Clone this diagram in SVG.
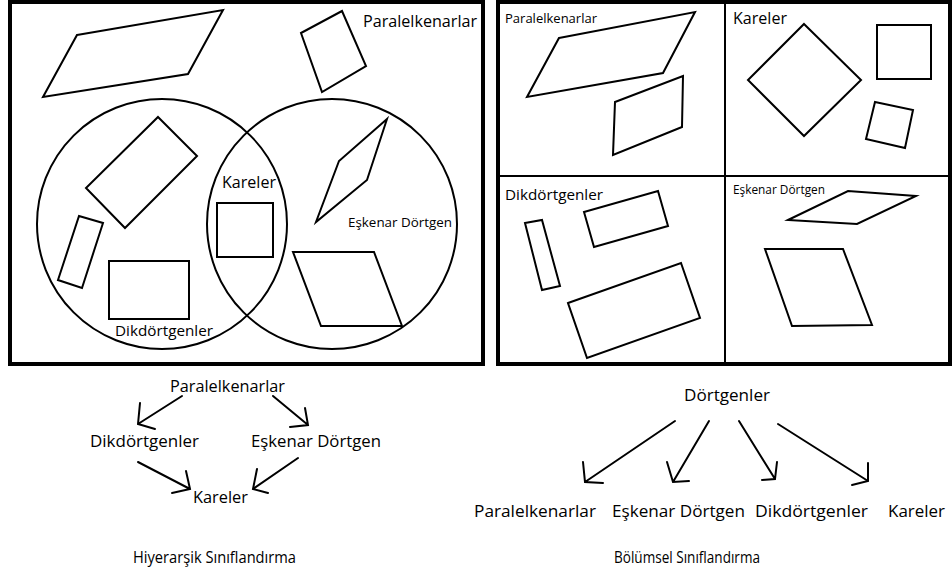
<svg xmlns="http://www.w3.org/2000/svg" width="952" height="581" viewBox="0 0 952 581">
<style>
text{font-family:"Open Sans","Liberation Sans",sans-serif;fill:#000}
.frame{fill:none;stroke:#000;stroke-width:4}
.shape{fill:none;stroke:#000;stroke-width:2;stroke-linejoin:miter}
.div{stroke:#000;stroke-width:2}
.arr{fill:none;stroke:#000;stroke-width:2;stroke-linecap:round;stroke-linejoin:miter}
</style>
<rect width="952" height="581" fill="#fff"/>

<g id="hierarchical-venn">
  <rect class="frame" x="10" y="2" width="473" height="362"/>
  <polygon class="shape" points="77,35 223,10 188,74 43,97"/>
  <polygon class="shape" points="301,33 342,11 366,66 322,92"/>
  <text x="363" y="27" font-size="16" textLength="114" lengthAdjust="spacingAndGlyphs">Paralelkenarlar</text>
  <circle class="shape" cx="162" cy="224" r="125"/>
  <circle class="shape" cx="332" cy="224" r="125"/>
  <polygon class="shape" points="158,117 197,156 125,228 86,188"/>
  <polygon class="shape" points="79,216 103,223 82,288 58,280"/>
  <rect class="shape" x="109" y="261" width="80" height="58"/>
  <text x="115" y="336" font-size="15" textLength="98" lengthAdjust="spacingAndGlyphs">Dikdörtgenler</text>
  <rect class="shape" x="217" y="203" width="56" height="54"/>
  <text x="222" y="188" font-size="16" textLength="54" lengthAdjust="spacingAndGlyphs">Kareler</text>
  <polygon class="shape" points="387,119 339,161 316,222 367,180"/>
  <text x="348" y="227" font-size="13" textLength="104" lengthAdjust="spacingAndGlyphs">Eşkenar Dörtgen</text>
  <polygon class="shape" points="293,252 374,252 402,326 321,326"/>
</g>

<g id="partitional-grid">
  <rect class="frame" x="498" y="2" width="452" height="362"/>
  <line class="div" x1="725" y1="2" x2="725" y2="364"/>
  <line class="div" x1="498" y1="176" x2="950" y2="176"/>
</g>

<g id="q-paralelkenarlar">
  <text x="505" y="23" font-size="13" textLength="92" lengthAdjust="spacingAndGlyphs">Paralelkenarlar</text>
  <polygon class="shape" points="559,38 695,12 663,73 527,97"/>
  <polygon class="shape" points="615,102 683,76 682,127 613,155"/>
</g>

<g id="q-kareler">
  <text x="733" y="24" font-size="16" textLength="54" lengthAdjust="spacingAndGlyphs">Kareler</text>
  <polygon class="shape" points="804,24 861,80 804,136 748,80"/>
  <rect class="shape" x="877" y="25" width="54" height="54"/>
  <polygon class="shape" points="875,102 913,110 905,148 866,139"/>
</g>

<g id="q-dikdortgenler">
  <text x="505" y="200" font-size="15" textLength="98" lengthAdjust="spacingAndGlyphs">Dikdörtgenler</text>
  <polygon class="shape" points="525,223 542,220 560,286 542,290"/>
  <polygon class="shape" points="584,212 658,191 668,226 594,247"/>
  <polygon class="shape" points="568,303 681,263 700,318 587,358"/>
</g>

<g id="q-eskenar">
  <text x="733" y="194" font-size="12" textLength="92" lengthAdjust="spacingAndGlyphs">Eşkenar Dörtgen</text>
  <polygon class="shape" points="788,220 848,191 916,196 857,224"/>
  <polygon class="shape" points="765,249 843,249 872,325 792,326"/>
</g>

<g id="h-paralelkenarlar"><text x="170" y="392" font-size="16.5" textLength="115" lengthAdjust="spacingAndGlyphs">Paralelkenarlar</text></g>
<g id="h-dikdortgenler"><text x="90" y="447" font-size="16.5" textLength="109" lengthAdjust="spacingAndGlyphs">Dikdörtgenler</text></g>
<g id="h-eskenar"><text x="251" y="447" font-size="16.5" textLength="130" lengthAdjust="spacingAndGlyphs">Eşkenar Dörtgen</text></g>
<g id="h-kareler"><text x="193" y="503" font-size="16.5" textLength="55" lengthAdjust="spacingAndGlyphs">Kareler</text></g>

<g id="b-dortgenler"><text x="684" y="401" font-size="17" textLength="86" lengthAdjust="spacingAndGlyphs">Dörtgenler</text></g>
<g id="b-paralelkenarlar"><text x="474" y="517" font-size="17" textLength="122" lengthAdjust="spacingAndGlyphs">Paralelkenarlar</text></g>
<g id="b-eskenar"><text x="612" y="517" font-size="17" textLength="133" lengthAdjust="spacingAndGlyphs">Eşkenar Dörtgen</text></g>
<g id="b-dikdortgenler"><text x="755" y="517" font-size="17" textLength="113" lengthAdjust="spacingAndGlyphs">Dikdörtgenler</text></g>
<g id="b-kareler"><text x="888" y="517" font-size="17" textLength="57" lengthAdjust="spacingAndGlyphs">Kareler</text></g>

<g id="captions">
  <text x="133" y="563" font-size="16.5" textLength="163" lengthAdjust="spacingAndGlyphs">Hiyerarşik Sınıflandırma</text>
  <text x="614" y="563" font-size="16.5" textLength="146" lengthAdjust="spacingAndGlyphs">Bölümsel Sınıflandırma</text>
</g>

<g id="connectors">
  <path class="arr" d="M182,396 L138,424 M140,403 L138,424 L155,429"/>
  <path class="arr" d="M273,396 L308,425 M305,408 L308,425 L290,427"/>
  <path class="arr" d="M138,462 L190,489 M186,471 L190,489 L172,493"/>
  <path class="arr" d="M298,458 L253,489 M257,469 L253,489 L268,493"/>
  <path class="arr" d="M675,421 L585,482 M583,462 L585,482 L603,483"/>
  <path class="arr" d="M709,421 L673,482 M667,462 L673,482 L689,481"/>
  <path class="arr" d="M739,421 L775,479 M777,462 L775,479 L762,480"/>
  <path class="arr" d="M778,424 L868,481 M868,463 L868,481 L852,485"/>
</g>
</svg>
